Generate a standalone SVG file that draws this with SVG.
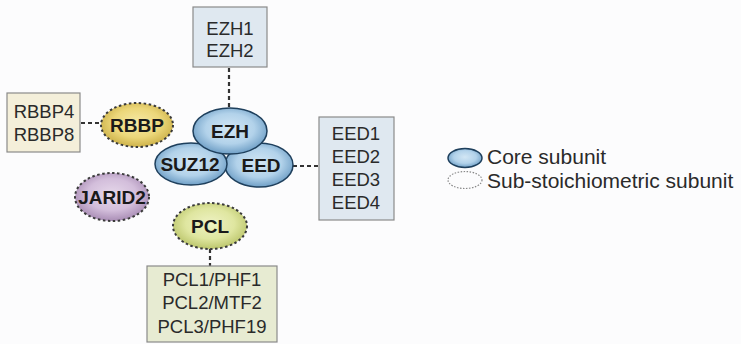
<svg xmlns="http://www.w3.org/2000/svg" width="741" height="344" viewBox="0 0 741 344">
<defs>
<radialGradient id="gCore" cx="50%" cy="45%" r="55%">
<stop offset="0" stop-color="#d2e6f4"/><stop offset="0.6" stop-color="#b2d2ea"/><stop offset="1" stop-color="#6f9fc6"/>
</radialGradient>
<radialGradient id="gRbbp" cx="50%" cy="45%" r="55%">
<stop offset="0" stop-color="#f6e9a6"/><stop offset="0.6" stop-color="#ecd77a"/><stop offset="1" stop-color="#cdb24a"/>
</radialGradient>
<radialGradient id="gJarid" cx="50%" cy="45%" r="55%">
<stop offset="0" stop-color="#e6d8ea"/><stop offset="0.6" stop-color="#d3bedb"/><stop offset="1" stop-color="#a98db5"/>
</radialGradient>
<radialGradient id="gPcl" cx="50%" cy="45%" r="55%">
<stop offset="0" stop-color="#eef2c4"/><stop offset="0.6" stop-color="#dfe6a0"/><stop offset="1" stop-color="#bcc66c"/>
</radialGradient>
<style>
.box{stroke:#8a8a8a;stroke-width:1.2}
.bt{font-family:"Liberation Sans",Arial,sans-serif;font-size:18.5px;fill:#2a2a2a;text-anchor:middle}
.et{font-family:"Liberation Sans",Arial,sans-serif;font-size:19px;font-weight:bold;fill:#1a1a1a;text-anchor:middle}
.core{fill:url(#gCore);stroke:#1e3f5c;stroke-width:1.5}
.sub{stroke:#3a3a3a;stroke-width:2;stroke-dasharray:2.5 2.5}
.conn{stroke:#333;stroke-width:2.2;stroke-dasharray:4 3;fill:none}
.lt{font-family:"Liberation Sans",Arial,sans-serif;font-size:21px;fill:#2a2a2a}
</style>
</defs>
<rect width="741" height="344" fill="#fcfcfd"/>
<g id="connectors">
<line class="conn" x1="229" y1="68" x2="229" y2="108"/>
<line class="conn" x1="81" y1="123" x2="100" y2="123"/>
<line class="conn" x1="293" y1="166" x2="319" y2="166"/>
<line class="conn" x1="210" y1="249" x2="210" y2="266"/>
</g>
<g id="ezh-box">
<rect class="box" x="193" y="7" width="74" height="60" fill="#dfe8f0"/>
<text class="bt" x="230" y="35">EZH1</text>
<text class="bt" x="230" y="57">EZH2</text>
</g>
<g id="rbbp-box">
<rect class="box" x="7" y="93" width="73" height="59" fill="#f4efda"/>
<text class="bt" x="44" y="118">RBBP4</text>
<text class="bt" x="44" y="141">RBBP8</text>
</g>
<g id="eed-box">
<rect class="box" x="319" y="117" width="75" height="103" fill="#dfe8f0"/>
<text class="bt" x="356" y="140">EED1</text>
<text class="bt" x="356" y="163">EED2</text>
<text class="bt" x="356" y="186">EED3</text>
<text class="bt" x="356" y="209">EED4</text>
</g>
<g id="pcl-box">
<rect class="box" x="147" y="266" width="130" height="76" fill="#e7ebd2"/>
<text class="bt" x="212" y="286">PCL1/PHF1</text>
<text class="bt" x="212" y="309">PCL2/MTF2</text>
<text class="bt" x="212" y="333">PCL3/PHF19</text>
</g>
<g id="rbbp">
<ellipse class="sub" cx="137" cy="125" rx="36" ry="22" fill="url(#gRbbp)"/>
<text class="et" x="137" y="132">RBBP</text>
</g>
<g id="jarid2">
<ellipse class="sub" cx="112" cy="197" rx="37" ry="24" fill="url(#gJarid)"/>
<text class="et" x="112" y="204">JARID2</text>
</g>
<g id="pcl">
<ellipse class="sub" cx="210" cy="226" rx="37" ry="23" fill="url(#gPcl)"/>
<text class="et" x="210" y="233">PCL</text>
</g>
<g id="eed">
<ellipse class="core" cx="259" cy="165" rx="34" ry="22"/>
<text class="et" x="261" y="172">EED</text>
</g>
<g id="suz12">
<ellipse class="core" cx="191" cy="164" rx="36" ry="21"/>
<text class="et" x="190" y="171">SUZ12</text>
</g>
<g id="ezh">
<ellipse class="core" cx="230" cy="131" rx="37" ry="23"/>
<text class="et" x="230" y="138">EZH</text>
</g>
<g id="legend">
<ellipse class="core" cx="465" cy="158" rx="17" ry="9.5" stroke-width="1"/>
<text class="lt" x="487" y="164">Core subunit</text>
<ellipse cx="465" cy="180" rx="17" ry="8.5" fill="#fcfcfd" stroke="#888" stroke-width="1.2" stroke-dasharray="1.5 1.5"/>
<text class="lt" x="487" y="188">Sub-stoichiometric subunit</text>
</g>
</svg>
